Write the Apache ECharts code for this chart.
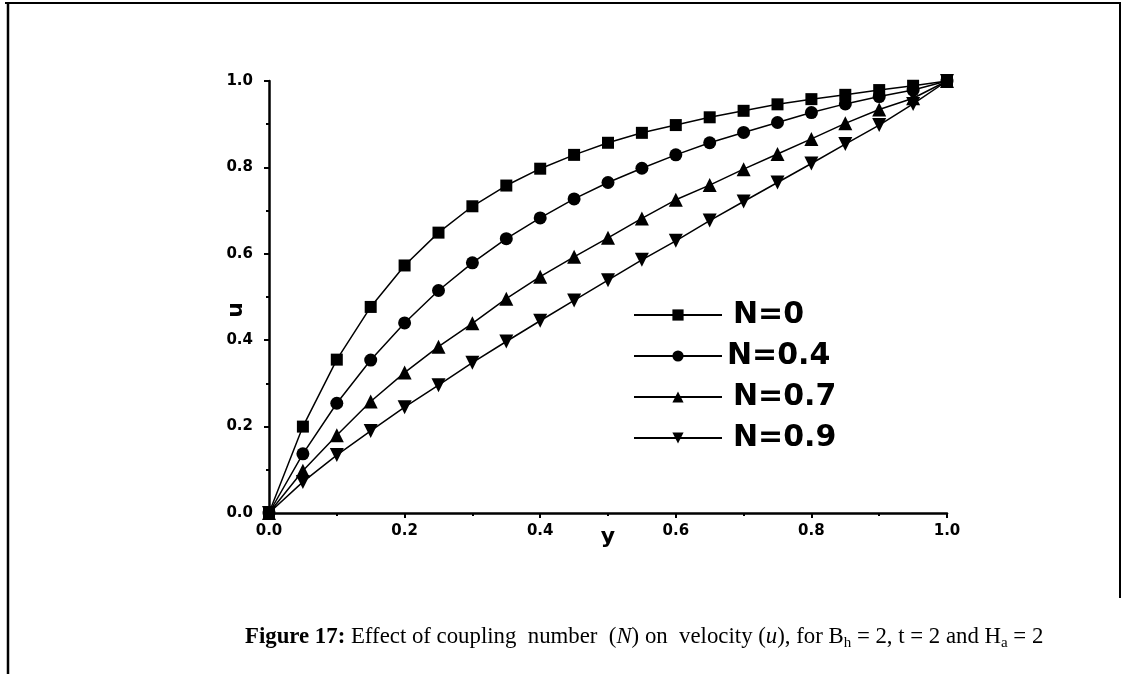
<!DOCTYPE html>
<html>
<head>
<meta charset="utf-8">
<script src="https://cdn.jsdelivr.net/npm/echarts@6/dist/echarts.min.js"></script>
<style>
html,body{margin:0;padding:0;background:#fff;}
#chart{width:1126px;height:674px;}
</style>
</head>
<body>
<div id="chart"></div>
<script>
// ---- data ----
const yPos = [0,0.05,0.1,0.15,0.2,0.25,0.3,0.35,0.4,0.45,0.5,0.55,0.6,0.65,0.7,0.75,0.8,0.85,0.9,0.95,1.0];
const uN0  = [0,0.200,0.355,0.477,0.573,0.649,0.710,0.758,0.797,0.829,0.857,0.880,0.898,0.916,0.931,0.946,0.958,0.968,0.979,0.989,1.0];
const uN04 = [0,0.137,0.254,0.354,0.440,0.515,0.579,0.635,0.683,0.727,0.765,0.798,0.829,0.857,0.881,0.904,0.927,0.947,0.964,0.979,1.0];
const uN07 = [0,0.098,0.180,0.258,0.325,0.385,0.439,0.496,0.547,0.593,0.637,0.682,0.725,0.759,0.796,0.831,0.866,0.902,0.934,0.960,1.0];
const uN09 = [0,0.072,0.134,0.190,0.245,0.296,0.348,0.397,0.445,0.492,0.539,0.586,0.630,0.677,0.721,0.765,0.809,0.854,0.898,0.947,1.0];
const seriesNames = ['N=0','N=0.4','N=0.7','N=0.9'];
const xTickLabels = ['0.0','0.2','0.4','0.6','0.8','1.0'];
const yTickLabels = ['0.0','0.2','0.4','0.6','0.8','1.0'];
const xAxisName = 'y';
const yAxisName = 'u';

const invTri = 'path://M0 0L2 0L1 1.73Z';
const symbols = ['rect','circle','triangle',invTri];
const symSizes = [12,13,14,14];
const seriesVals = [uN0,uN04,uN07,uN09];

const chart = echarts.init(document.getElementById('chart'), null, {renderer:'canvas'});
const labelFont = {fontFamily:'DejaVu Sans', fontWeight:'bold', fontSize:15, color:'#000'};

const option = {
  backgroundColor:'#fff',
  animation:false,
  grid:{left:269, right:179, top:81, bottom:161, containLabel:false},
  xAxis:{
    type:'value', min:0, max:1, interval:0.2,
    name:xAxisName, nameLocation:'middle', nameGap:13, nameMoveOverlap:false,
    nameTextStyle:{fontFamily:'DejaVu Sans', fontWeight:'bold', fontSize:22, color:'#000'},
    axisLine:{show:true, onZero:false, lineStyle:{color:'#000', width:2.5}},
    axisTick:{show:true, inside:false, length:5, lineStyle:{color:'#000', width:2}},
    minorTick:{show:true, splitNumber:2, length:3, lineStyle:{color:'#000', width:2}},
    splitLine:{show:false},
    axisLabel:Object.assign({margin:11, formatter:(v)=>xTickLabels[Math.round(v/0.2)]}, labelFont)
  },
  yAxis:{
    type:'value', min:0, max:1, interval:0.2,
    name:yAxisName, nameLocation:'middle', nameGap:22, nameRotate:90, nameMoveOverlap:false,
    nameTextStyle:{fontFamily:'DejaVu Sans', fontWeight:'bold', fontSize:22, color:'#000', padding:[0,26,0,0]},
    axisLine:{show:true, onZero:false, lineStyle:{color:'#000', width:2.5}},
    axisTick:{show:true, inside:false, length:5, lineStyle:{color:'#000', width:2}},
    minorTick:{show:true, splitNumber:2, length:3, lineStyle:{color:'#000', width:2}},
    splitLine:{show:false},
    axisLabel:Object.assign({margin:16, formatter:(v)=>yTickLabels[Math.round(v/0.2)]}, labelFont)
  },
  legend:{
    orient:'vertical', left:628, top:295,
    itemWidth:88, itemHeight:14, itemGap:11,
    textStyle:{fontFamily:'DejaVu Sans', fontWeight:'bold', fontSize:30, color:'#000', padding:[0,0,0,6]},
    data:seriesNames.map((n,i)=>({name:n, textStyle: i===1 ? {padding:[0,0,0,0]} : {}}))
  },
  series: seriesNames.map((n,i)=>({
    name:n, type:'line',
    data: yPos.map((x,j)=>[x, seriesVals[i][j]]),
    symbol:symbols[i], symbolSize:symSizes[i],
    showAllSymbol:true,
    lineStyle:{color:'#000', width:1.5},
    itemStyle:{color:'#000'},
    z: 2
  })),
  graphic:[
    {type:'line', shape:{x1:5,y1:3,x2:1121,y2:3}, style:{stroke:'#000', lineWidth:2}},
    {type:'line', shape:{x1:8,y1:2,x2:8,y2:674}, style:{stroke:'#000', lineWidth:2.5}},
    {type:'line', shape:{x1:1120,y1:2,x2:1120,y2:598}, style:{stroke:'#000', lineWidth:2}},
    {type:'text', left:245, top:623, style:{
      text:'{b|Figure 17:} Effect of coupling  number  ({i|N}) on  velocity ({i|u}), for B{s|h} = 2, t = 2 and H{s|a} = 2',
      fill:'#000', font:'22.8px "Liberation Serif"',
      rich:{
        b:{fontFamily:'Liberation Serif', fontWeight:'bold', fontSize:22.8, lineHeight:28, fill:'#000'},
        i:{fontFamily:'Liberation Serif', fontStyle:'italic', fontSize:22.8, lineHeight:28, fill:'#000'},
        s:{fontFamily:'Liberation Serif', fontSize:15, lineHeight:15, verticalAlign:'bottom', fill:'#000'}
      },
      lineHeight:28, fontSize:22.8, fontFamily:'Liberation Serif'
    }}
  ]
};
chart.setOption(option);
</script>
</body>
</html>
